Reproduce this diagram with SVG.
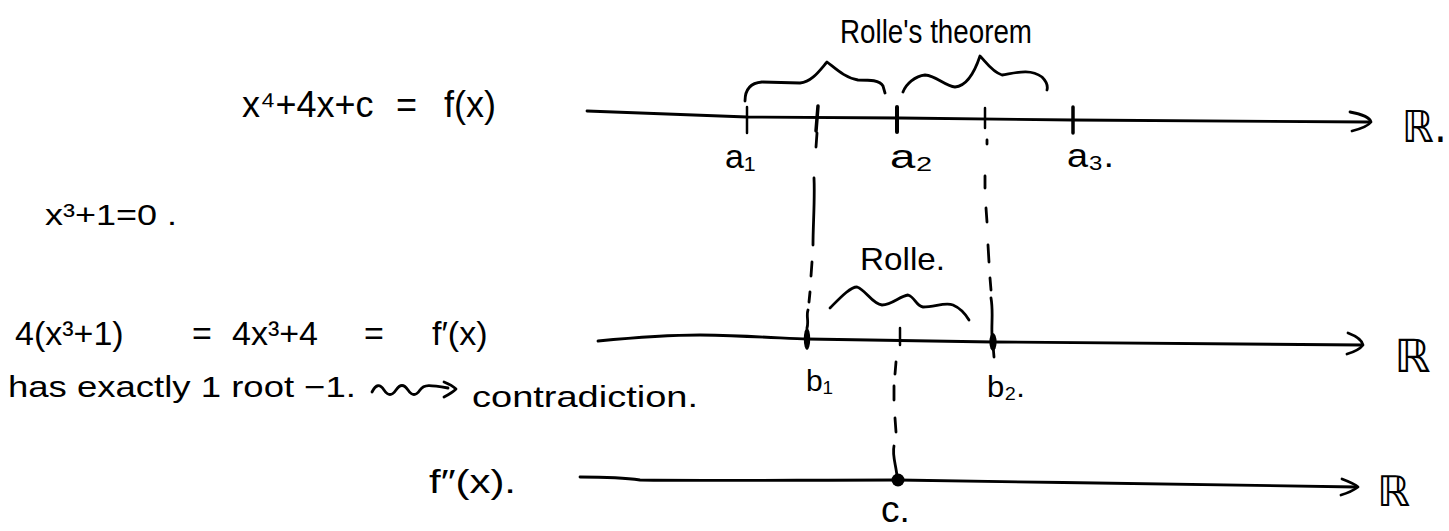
<svg xmlns="http://www.w3.org/2000/svg" width="1449" height="531" viewBox="0 0 1449 531">
<style>
.ln{fill:none;stroke:#000;stroke-width:2.8;stroke-linecap:round;stroke-linejoin:round}
.tk{fill:none;stroke:#000;stroke-width:3.5;stroke-linecap:round}
.t{font-family:"Liberation Sans","DejaVu Sans",sans-serif;fill:#000}
.r{font-family:"DejaVu Sans",sans-serif;fill:#000}
</style>
<rect width="1449" height="531" fill="#fff"/>
<g id="connectors">
<path class="ln" d="M817,133 L816,147 M814,178 C815,200 813,225 813,245 M812,262 L811,276 M810,292 L809,302 M808,310 C806,316 809,321 807,328"/>
<path class="ln" d="M987,140 L987,144 M985,176 L985,188 M986,208 L987,222 M988,245 L989,262 M990,278 L991,290 M991,298 C994,315 990,330 993,345 L994,357"/>
<path class="ln" d="M896,362 L895,374 M894,386 L894,400 M895,418 L896,432 M894,446 C892,455 896,465 897,476"/>
</g>
<g id="axis-f">
<path class="ln" d="M587,111 C620,112 680,114 747,117 L900,118 L1073,120 C1200,121 1300,122 1369,122"/>
<path class="ln" d="M1350,112 C1362,114 1370,118 1371,122 C1368,126 1360,129 1352,131"/>
<path class="tk" style="stroke-width:2.5" d="M747,107 L747,133"/>
<path class="tk" d="M818,106 L816,131"/>
<path class="tk" style="stroke-width:4" d="M897,107 L897,132"/>
<path class="tk" style="stroke-width:2.5" d="M985,108 L985,128"/>
<path class="tk" d="M1073,107 L1073,133"/>
<path class="ln" d="M745,101 C745,90 750,83 762,82 L800,83 C812,82 820,70 827,62 C835,68 845,78 858,80 C870,80 880,80 883,86 L885,93"/>
<path class="ln" d="M903,92 C906,84 915,76 925,75 C937,76 945,86 955,87 C968,86 976,68 980,56 C986,62 992,72 1002,75 C1015,73 1030,68 1042,77 C1046,81 1048,86 1047,90"/>
<text class="t" x="840" y="43" font-size="34" textLength="192" lengthAdjust="spacingAndGlyphs">Rolle's theorem</text>
<text class="t" y="117" font-size="36"><tspan x="242">x⁴+4x+c</tspan> <tspan x="396">=</tspan> <tspan x="444">f(x)</tspan></text>
<text class="t" x="725" y="168" font-size="34">a₁</text>
<text class="t" x="890" y="168" font-size="34" textLength="43" lengthAdjust="spacingAndGlyphs">a₂</text>
<text class="t" x="1067" y="167" font-size="34" textLength="47" lengthAdjust="spacingAndGlyphs">a₃.</text>
<text class="r" x="1402" y="142" font-size="44" textLength="45" lengthAdjust="spacingAndGlyphs">ℝ.</text>
</g>
<g id="equation">
<text class="t" x="45" y="225" font-size="30" textLength="132" lengthAdjust="spacingAndGlyphs">x³+1=0 .</text>
</g>
<g id="axis-fprime">
<path class="ln" d="M598,341 C640,337 670,335 700,335 C760,336 790,339 807,339 L993,342 C1150,344 1300,345 1362,345"/>
<path class="ln" d="M1348,333 C1356,336 1362,340 1363,345 C1360,349 1354,352 1347,354"/>
<ellipse cx="807" cy="339" rx="3.2" ry="11"/>
<ellipse cx="993" cy="342" rx="3.6" ry="9"/>
<path class="tk" style="stroke-width:2.5" d="M900,328 L900,345"/>
<path class="ln" d="M830,308 C840,298 850,287 857,287 C866,290 872,304 882,305 C892,305 900,296 908,295 C915,297 916,306 923,307 C935,307 945,302 953,305 C960,308 966,315 969,320"/>
<text class="t" x="860" y="270" font-size="32" textLength="85" lengthAdjust="spacingAndGlyphs">Rolle.</text>
<text class="t" y="345" font-size="34"><tspan x="15">4(x³+1)</tspan> <tspan x="192">=</tspan> <tspan x="232">4x³+4</tspan> <tspan x="364">=</tspan> <tspan x="432">f′(x)</tspan></text>
<text class="t" x="806" y="391" font-size="30">b₁</text>
<text class="t" x="987" y="397" font-size="30" textLength="38" lengthAdjust="spacingAndGlyphs">b₂.</text>
<text class="r" x="1394" y="372" font-size="46">ℝ</text>
</g>
<g id="note">
<text class="t" x="8" y="397" font-size="29" textLength="348" lengthAdjust="spacingAndGlyphs">has exactly 1 root −1.</text>
<path class="ln" d="M372,392 C376,384 380,384 384,390 C388,396 392,396 396,390 C400,384 404,384 408,390 C412,396 416,396 420,390 C424,384 430,385 448,388"/>
<path class="ln" d="M444,382 C449,384 453,386 456,389 C452,393 448,395 444,397"/>
<text class="t" x="472" y="407" font-size="29" textLength="226" lengthAdjust="spacingAndGlyphs">contradiction.</text>
</g>
<g id="axis-fsecond">
<path class="ln" d="M580,477 C600,477 620,477 640,480 C700,481 800,480 898,480 C1050,482 1250,486 1356,487"/>
<path class="ln" d="M1342,479 C1350,482 1356,485 1358,487 C1354,490 1348,493 1341,495"/>
<circle cx="898" cy="480" r="6.5"/>
<text class="t" x="429" y="493" font-size="34" textLength="87" lengthAdjust="spacingAndGlyphs">f″(x).</text>
<text class="t" x="881" y="522" font-size="37">c.</text>
<text class="r" x="1377" y="506" font-size="42">ℝ</text>
</g>
</svg>
